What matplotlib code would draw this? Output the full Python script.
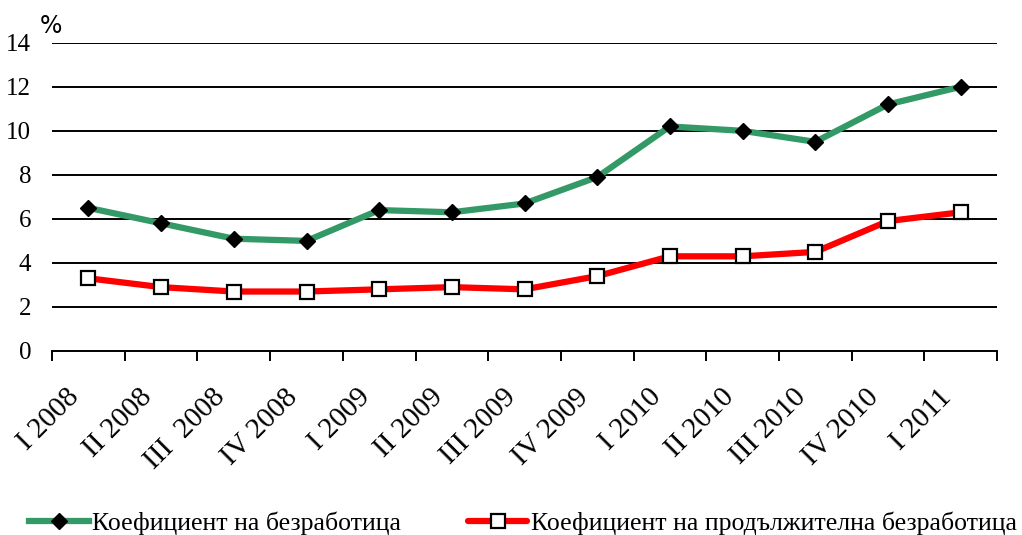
import numpy as np
import matplotlib.pyplot as plt
import matplotlib.transforms as mtransforms

plt.rcParams['font.family'] = ['Liberation Serif', 'DejaVu Serif']

quarters = ['I 2008', 'II 2008', 'III  2008', 'IV 2008', 'I 2009', 'II 2009',
            'III 2009', 'IV 2009', 'I 2010', 'II 2010', 'III 2010', 'IV 2010', 'I 2011']
unemployment = [6.5, 5.8, 5.1, 5.0, 6.4, 6.3, 6.7, 7.9, 10.2, 10.0, 9.5, 11.2, 12.0]
long_term = [3.3, 2.9, 2.7, 2.7, 2.8, 2.9, 2.8, 3.4, 4.3, 4.3, 4.5, 5.9, 6.3]

fig = plt.figure(figsize=(10.22, 5.35), dpi=100)
ax = fig.add_axes([0.051, 0.344, 0.9245, 0.576])

x = np.arange(len(quarters))

# horizontal grid lines under the data
for yv in range(2, 15, 2):
    ax.axhline(yv, color='black', lw=1.4, zorder=1)

ax.plot(x, unemployment, color='#339966', lw=4.5, marker='D', ms=8.5,
        mfc='black', mec='black', label='Коефициент на безработица', zorder=3)
ax.plot(x, long_term, color='#ff0000', lw=4.5, marker='s', ms=9.5,
        mfc='white', mec='black', mew=1.6, solid_capstyle='round',
        label='Коефициент на продължителна безработица', zorder=3)

ax.set_xlim(-0.5, len(quarters) - 0.5)
ax.set_ylim(0, 14)
ax.set_yticks(range(0, 15, 2))
ax.tick_params(axis='y', length=0, labelsize=18, pad=15)

# ticks on category boundaries, labels at the centres
ax.set_xticks(np.arange(-0.5, len(quarters)))
ax.set_xticklabels([])
ax.tick_params(axis='x', direction='out', length=7, width=1.4, color='black')
offset = mtransforms.ScaledTranslation(-22 / 100, -33 / 100, fig.dpi_scale_trans)
for xi, lab in zip(x, quarters):
    ax.text(xi, 0, lab, transform=ax.get_xaxis_transform() + offset,
            rotation=45, ha='right', va='top', rotation_mode='anchor', fontsize=21)

for side in ['left', 'right', 'top']:
    ax.spines[side].set_visible(False)
ax.spines['bottom'].set_linewidth(1.4)

fig.text(0.039, 0.938, '%', fontsize=17, family='DejaVu Sans', va='baseline')

fig.legend(loc='center', bbox_to_anchor=(0.512, 0.022), ncol=2, frameon=False,
           fontsize=18.5, handlelength=2.3, handletextpad=0.15, columnspacing=2.6,
           borderpad=0, borderaxespad=0)

fig.savefig('out.png', dpi=100)
